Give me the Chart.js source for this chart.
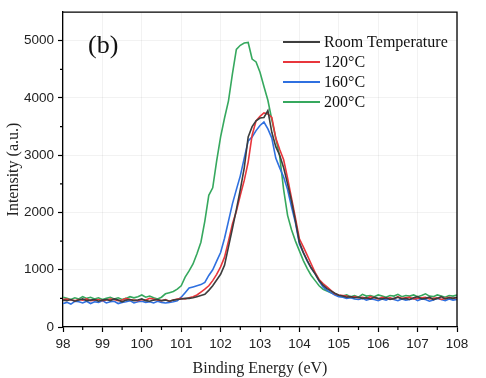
<!DOCTYPE html>
<html lang="en">
<head>
    <meta charset="UTF-8">
    <title>XPS spectra (b)</title>
    <style>
        body {
            margin: 0;
            background: #fff;
        }
        #chart {
            display: block;
        }
    </style>
    <script src="https://cdn.jsdelivr.net/npm/chart.js"></script>
</head>
<body>
    <canvas id="chart" width="486" height="378"></canvas>

    <script>
        // binding energy grid (eV)
        const energy = [
            98.0, 98.1, 98.2, 98.3, 98.4, 98.5, 98.6, 98.7, 98.8, 98.9,
            99.0, 99.1, 99.2, 99.3, 99.4, 99.5, 99.6, 99.7, 99.8, 99.9,
            100.0, 100.1, 100.2, 100.3, 100.4, 100.5, 100.6, 100.7, 100.8, 100.9,
            101.0, 101.1, 101.2, 101.3, 101.4, 101.5, 101.6, 101.7, 101.8, 101.9,
            102.0, 102.1, 102.2, 102.3, 102.4, 102.5, 102.6, 102.7, 102.8, 102.9,
            103.0, 103.1, 103.2, 103.3, 103.4, 103.5, 103.6, 103.7, 103.8, 103.9,
            104.0, 104.1, 104.2, 104.3, 104.4, 104.5, 104.6, 104.7, 104.8, 104.9,
            105.0, 105.1, 105.2, 105.3, 105.4, 105.5, 105.6, 105.7, 105.8, 105.9,
            106.0, 106.1, 106.2, 106.3, 106.4, 106.5, 106.6, 106.7, 106.8, 106.9,
            107.0, 107.1, 107.2, 107.3, 107.4, 107.5, 107.6, 107.7, 107.8, 107.9,
            108.0
        ];

        const roomTemp = [
            470, 460, 480, 450, 470, 490, 460, 470, 480, 450,
            470, 480, 460, 490, 470, 440, 470, 480, 460, 470,
            490, 460, 450, 470, 480, 460, 470, 450, 470, 480,
            490, 500, 500, 510, 530, 550, 570, 640, 720, 820,
            920, 1080, 1400, 1720, 2050, 2400, 2780, 3320, 3500, 3600,
            3650, 3660, 3780, 3400, 3150, 3000, 2780, 2500, 2200, 1850,
            1480, 1300, 1160, 1030, 930, 810, 730, 670, 630, 590,
            555, 540, 520, 530, 510, 520, 500, 510, 490, 520,
            500, 490, 510, 480, 500, 520, 490, 500, 480, 510,
            530, 490, 500, 520, 480, 500, 530, 490, 510, 500,
            520
        ];

        const temp120 = [
            480, 490, 470, 460, 480, 470, 490, 460, 470, 480,
            460, 470, 490, 480, 460, 470, 500, 480, 470, 460,
            480, 470, 500, 490, 470, 460, 480, 450, 470, 490,
            500, 490, 510, 530, 560, 610, 660, 720, 810, 920,
            1050, 1220, 1500, 1800, 2020, 2300, 2560, 2880, 3350, 3600,
            3680, 3740, 3720, 3660, 3300, 3100, 2920, 2600, 2250, 1900,
            1540, 1400, 1250, 1100, 950, 830, 760, 700, 640, 580,
            560, 550, 540, 520, 530, 510, 520, 500, 530, 510,
            490, 520, 500, 510, 490, 530, 500, 510, 520, 490,
            500, 510, 520, 490, 500, 510, 480, 500, 520, 500,
            510
        ];

        const temp160 = [
            410, 430, 400, 450, 440, 420, 450, 410, 440, 430,
            460, 420, 440, 450, 410, 430, 440, 460, 420, 440,
            450, 430, 440, 420, 450, 430, 420, 430, 440, 460,
            520, 600, 680, 700, 720, 740, 780, 900, 1000, 1150,
            1300, 1550, 1850, 2150, 2400, 2640, 2950, 3250, 3320, 3430,
            3520, 3580, 3460, 3300, 2950, 2780, 2620, 2400, 2100, 1820,
            1450, 1300, 1150, 1030, 930, 800, 700, 640, 600, 560,
            530, 520, 500, 510, 490, 480, 500, 470, 490, 480,
            460, 490, 470, 500, 480, 460, 490, 470, 480, 500,
            460, 490, 480, 450, 470, 500, 480, 460, 490, 470,
            480
        ];

        const temp200 = [
            520, 500, 480, 510, 490, 530, 500, 520, 490, 510,
            480, 500, 520, 490, 510, 480, 500, 530, 510, 530,
            560, 520, 540, 510, 490, 520, 580, 600, 620, 660,
            720, 870, 980, 1100, 1280, 1480, 1850, 2300, 2430, 2900,
            3320, 3650, 3950, 4420, 4850, 4920, 4960, 4970, 4680, 4630,
            4450, 4200, 3960, 3620, 3300, 2980, 2400, 1950, 1700, 1500,
            1330, 1160, 1020, 900, 810, 720, 660, 630, 600, 570,
            550, 540, 560, 530, 550, 520, 570, 540, 550, 530,
            560, 540, 520, 550, 540, 570, 530, 550, 540, 560,
            530, 550, 580, 540, 530, 560, 540, 520, 550, 540,
            560
        ];

        const seriesLabels = ['Room Temperature', '120°C', '160°C', '200°C'];
        const seriesColors = ['#3d3d3d', '#e8363c', '#2f70e0', '#36a85e'];
        const seriesValues = [roomTemp, temp120, temp160, temp200];

        const yTicks = [0, 1000, 2000, 3000, 4000, 5000];
        const yMinorTicks = [500, 1500, 2500, 3500, 4500];
        const xMinorTicks = [98.5, 99.5, 100.5, 101.5, 102.5, 103.5, 104.5, 105.5, 106.5, 107.5];

        const SERIF = '"Liberation Serif", "Times New Roman", serif';
        const SANS = '"Liberation Sans", Arial, sans-serif';

        // frame, minor ticks, legend and panel label
        const decorPlugin = {
            id: 'decor',
            afterDraw(chart) {
                const c = chart.ctx;
                const area = chart.chartArea;
                const xs = chart.scales.x;
                const ys = chart.scales.y;

                c.save();
                c.strokeStyle = '#000';
                c.lineWidth = 1.3;
                c.beginPath();
                c.moveTo(area.left, area.top);
                c.lineTo(area.right, area.top);
                c.lineTo(area.right, area.bottom);
                c.stroke();

                // minor ticks
                c.lineWidth = 1.2;
                c.beginPath();
                xMinorTicks.forEach(v => {
                    const px = xs.getPixelForValue(v);
                    c.moveTo(px, area.bottom);
                    c.lineTo(px, area.bottom + 3);
                });
                yMinorTicks.forEach(v => {
                    const py = ys.getPixelForValue(v);
                    c.moveTo(area.left, py);
                    c.lineTo(area.left - 3, py);
                });
                c.stroke();

                // legend
                c.font = '16px ' + SERIF;
                c.textBaseline = 'middle';
                c.textAlign = 'left';
                chart.data.datasets.forEach((ds, k) => {
                    const y = area.top + 30 + k * 20;
                    c.strokeStyle = ds.borderColor;
                    c.lineWidth = 2;
                    c.beginPath();
                    c.moveTo(area.right - 174, y);
                    c.lineTo(area.right - 137, y);
                    c.stroke();
                    c.fillStyle = '#111';
                    c.fillText(ds.label, area.right - 133, y + 1);
                });

                // panel label
                c.font = '26px ' + SERIF;
                c.fillStyle = '#111';
                c.fillText('(b)', area.left + 25, area.top + 34);
                c.restore();
            }
        };

        const ctx = document.getElementById('chart').getContext('2d');
        new Chart(ctx, {
            type: 'line',
            data: {
                datasets: seriesLabels.map((label, k) => ({
                    label: label,
                    data: energy.map((e, i) => ({ x: e, y: seriesValues[k][i] })),
                    borderColor: seriesColors[k],
                    borderWidth: 1.6,
                    pointRadius: 0,
                    tension: 0,
                    fill: false
                }))
            },
            options: {
                responsive: false,
                animation: false,
                layout: { padding: { top: 11, right: 29, left: 0, bottom: 0 } },
                plugins: {
                    legend: { display: false },
                    tooltip: { enabled: false }
                },
                scales: {
                    x: {
                        type: 'linear',
                        min: 98,
                        max: 108,
                        ticks: {
                            stepSize: 1,
                            color: '#222',
                            font: { family: SANS, size: 13.5 },
                            padding: 4,
                            maxRotation: 0
                        },
                        grid: {
                            color: 'rgba(0, 0, 0, 0.05)',
                            tickColor: '#000',
                            tickLength: 5,
                            tickWidth: 1.2
                        },
                        border: { color: '#000', width: 1.3 },
                        title: {
                            display: true,
                            text: 'Binding Energy (eV)',
                            color: '#222',
                            font: { family: SERIF, size: 16 },
                            padding: { top: 4, bottom: 0 }
                        },
                        afterFit(scale) { scale.height = 51; }
                    },
                    y: {
                        min: 0,
                        max: 5500,
                        afterBuildTicks(scale) {
                            scale.ticks = yTicks.map(v => ({ value: v }));
                        },
                        ticks: {
                            color: '#222',
                            font: { family: SANS, size: 13.5 },
                            padding: 4,
                            callback: v => String(v)
                        },
                        grid: {
                            color: 'rgba(0, 0, 0, 0.05)',
                            tickColor: '#000',
                            tickLength: 5,
                            tickWidth: 1.2
                        },
                        border: { color: '#000', width: 1.3 },
                        title: {
                            display: true,
                            text: 'Intensity (a.u.)',
                            color: '#222',
                            font: { family: SERIF, size: 16 }
                        },
                        afterFit(scale) { scale.width = 63; }
                    }
                }
            },
            plugins: [decorPlugin]
        });
    </script>
</body>
</html>
